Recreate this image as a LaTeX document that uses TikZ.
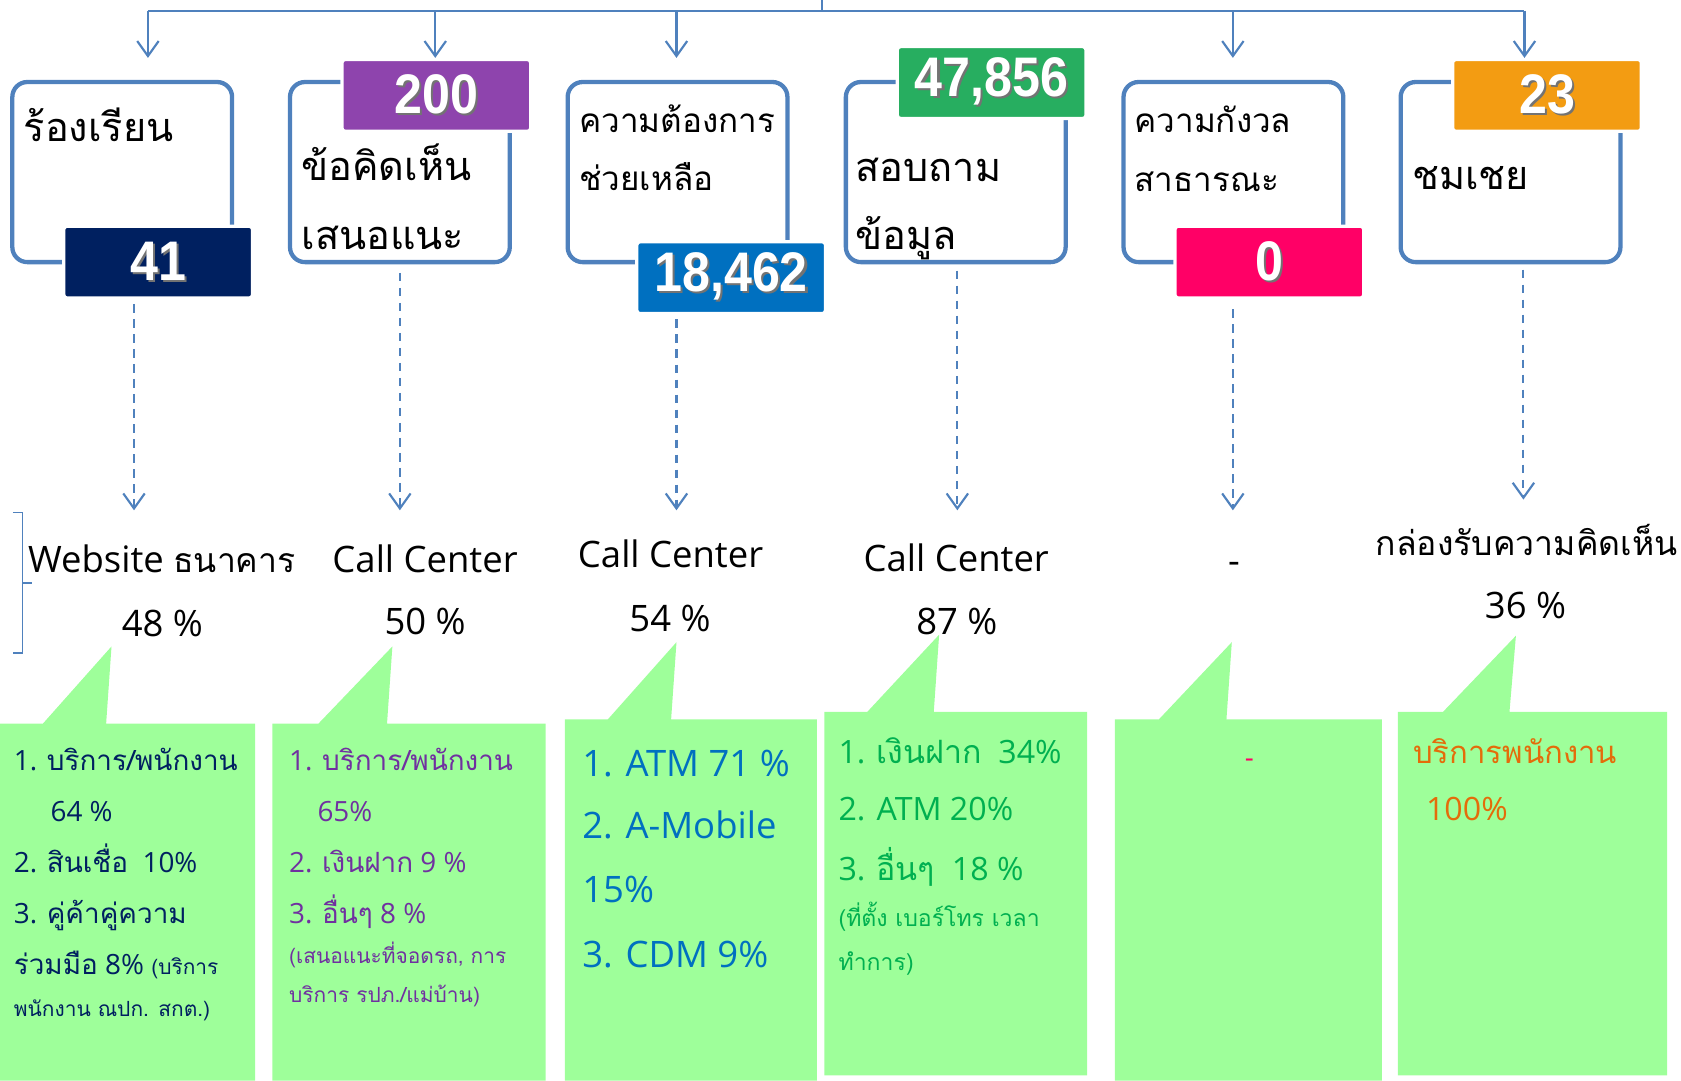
\documentclass[tikz,border=0pt]{standalone}
\usepackage{fontspec}
\setmainfont{Open Sans}
\newfontfamily\thai[Script=Thai]{Loma}
\newfontfamily\numfont[FakeStretch=0.9]{Liberation Sans}
\usetikzlibrary{arrows.meta}
\definecolor{lineblue}{RGB}{79,129,189}
\definecolor{navy}{RGB}{0,32,96}
\definecolor{lblpurple}{RGB}{142,68,173}
\definecolor{lblblue}{RGB}{0,112,192}
\definecolor{lblgreen}{RGB}{39,174,96}
\definecolor{lblpink}{RGB}{255,0,102}
\definecolor{lblorange}{RGB}{243,156,18}
\definecolor{callgreen}{RGB}{158,255,154}
\definecolor{txtpurple}{RGB}{112,48,160}
\definecolor{txtgreen}{RGB}{0,176,80}
\definecolor{txtorange}{RGB}{228,108,10}
\newcommand\fsz[1]{\fontsize{#1}{#1}\selectfont}
\newcommand\shad[1]{\rlap{\hspace{2pt}\raisebox{-2pt}{\color{black!55}#1}}#1}
\tikzset{
  box/.style={draw=lineblue, line width=4, rounded corners=14, minimum width=205, minimum height=168},
  lbl/.style={draw=white, line width=3, rounded corners=3, minimum width=176, minimum height=67, text=white, inner sep=0, font=\numfont\bfseries\fsz{52}},
  bt/.style={anchor=base west, inner sep=0, font=\thai\fsz{37}},
  bts/.style={anchor=base west, inner sep=0, font=\thai\fsz{31}},
  conn/.style={draw=lineblue, line width=2},
  tip/.style={-{Straight Barb[length=14,width=20]}},
  dsh/.style={draw=lineblue, line width=2, dash pattern=on 8pt off 6pt, -{Straight Barb[length=14,width=20]}},
  mid/.style={anchor=base, inner sep=0, font=\fsz{34}},
  ct/.style={anchor=base west, inner sep=0, font=\fsz{26}},
  cts/.style={anchor=base west, inner sep=0, font=\fsz{19.5}},
  callout/.style={fill=callgreen},
}
\begin{document}
\begin{tikzpicture}[x=1pt,y=-1pt]
\useasboundingbox (0,0) rectangle (1568,1008);

% callouts
\fill[callout] (0,675) -- (40,675) -- (104,603) -- (99,675) -- (238,675) -- (238,1008) -- (0,1008) -- cycle;
\fill[callout] (254,675) -- (297,675) -- (366,603) -- (361,675) -- (509,675) -- (509,1008) -- (254,1008) -- cycle;
\fill[callout] (527,671) -- (567,671) -- (631,599) -- (626,671) -- (762,671) -- (762,1008) -- (527,1008) -- cycle;
\fill[callout] (769,664) -- (809,664) -- (876,592) -- (871,664) -- (1014,664) -- (1014,1003) -- (769,1003) -- cycle;
\fill[callout] (1040,671) -- (1081,671) -- (1149,599) -- (1144,671) -- (1289,671) -- (1289,1008) -- (1040,1008) -- cycle;
\fill[callout] (1304,664) -- (1346,664) -- (1414,593) -- (1408,664) -- (1555,664) -- (1555,1003) -- (1304,1003) -- cycle;

% boxes
\node[box] (b1) at (114,160.5) {};
\node[box] (b2) at (373,160.5) {};
\node[box] (b3) at (632,160.5) {};
\node[box] (b4) at (891.5,160.5) {};
\node[box] (b5) at (1150.5,160.5) {};
\node[box] (b6) at (1409,160.5) {};

% labels
\node[lbl, fill=navy] (l1) at (147.5,244.5) {\shad{41}};
\node[lbl, fill=lblpurple] (l2) at (407,89) {\shad{200}};
\node[lbl, fill=lblblue] (l3) at (682,259) {\shad{18,462}};
\node[lbl, fill=lblgreen] (l4) at (925,77) {\shad{47,856}};
\node[lbl, fill=lblpink] (l5) at (1184,244.5) {\shad{0}};
\node[lbl, fill=lblorange] (l6) at (1443,89) {\shad{23}};

% box texts
\node[bt] (t1) at (22,132) {ร้องเรียน};
\node[bt] (t2a) at (281,168) {ข้อคิดเห็น};
\node[bt] (t2b) at (281,233) {เสนอแนะ};
\node[bts] (t3a) at (540,124) {ความต้องการ};
\node[bts] (t3b) at (540,178) {ช่วยเหลือ};
\node[bt] (t4a) at (798,169) {สอบถาม};
\node[bt] (t4b) at (798,233) {ข้อมูล};
\node[bts] (t5a) at (1058,124) {ความกังวล};
\node[bts] (t5b) at (1058,179) {สาธารณะ};
\node[bt] (t6) at (1317,177) {ชมเชย};

% top connector
\coordinate (tp) at (767,0);
\coordinate (tm) at (767,10);
\coordinate (h1) at (138,10);
\coordinate (h2) at (406,10);
\coordinate (h3) at (631,10);
\coordinate (h5) at (1150,10);
\coordinate (h6) at (1422,10);
\coordinate (e1) at (138,54);
\coordinate (e2) at (406,54);
\coordinate (e3) at (631,54);
\coordinate (e5) at (1150,54);
\coordinate (e6) at (1422,54);
\draw[conn] (tp) -- (tm);
\draw[conn] (h1) -- (h6);
\draw[conn,tip] (h1) -- (e1);
\draw[conn,tip] (h2) -- (e2);
\draw[conn,tip] (h3) -- (e3);
\draw[conn,tip] (h5) -- (e5);
\draw[conn,tip] (h6) -- (e6);

% dashed arrows
\coordinate (f1) at (125,476);
\coordinate (f2) at (373,476);
\coordinate (f3) at (631,476);
\coordinate (f4) at (893,476);
\coordinate (f5) at (1150,476);
\coordinate (f6) at (1421,466);
\draw[dsh, shorten <=4pt] (l1.south -| f1) -- (f1);
\draw[dsh, shorten <=8pt] (b2.south -| f2) -- (f2);
\draw[dsh, shorten <=4pt] (l3.south -| f3) -- (f3);
\draw[dsh, shorten <=6pt] (b4.south -| f4) -- (f4);
\draw[dsh, shorten <=9pt] (l5.south -| f5) -- (f5);
\draw[dsh, shorten <=5pt] (b6.south -| f6) -- (f6);

% bracket
\draw[conn, line width=1.5] (12,478) -- (21,478) -- (21,609) -- (12,609);
\draw[conn, line width=1.5] (21,544) -- (30,544);

% channel texts
\node[mid] (m1) at (151,534) {Website {\thai\fsz{31.5}ธนาคาร}};
\node[mid] (p1) at (151.5,594) {48 \%};
\node[mid] (m2) at (396.5,534) {Call Center};
\node[mid] (p2) at (396.5,592) {50 \%};
\node[mid] (m3) at (625.5,529) {Call Center};
\node[mid] (p3) at (625,589) {54 \%};
\node[mid] (m4) at (892,533) {Call Center};
\node[mid] (p4) at (892.5,592) {87 \%};
\node[mid] (m5) at (1151,535) {-};
\node[mid] (m6) at (1424,518) {\thai\fsz{31.5}กล่องรับความคิดเห็น};
\node[mid] (p6) at (1423,577) {36 \%};

% callout 1
\begin{scope}[every node/.append style={text=navy}]
\node[ct] (c1a) at (12.7,719) {1. {\thai บริการ/พนักงาน}};
\node[ct] (c1b) at (47,766) {64 \%};
\node[ct] (c1c) at (12.7,814) {2. {\thai สินเชื่อ}\ \ 10\%};
\node[ct] (c1d) at (12.7,861) {3. {\thai คู่ค้าคู่ความ}};
\node[ct] (c1e) at (12.7,909) {{\thai ร่วมมือ} 8\% {\fsz{19.5}\thai (บริการ}};
\node[cts] (c1f) at (12.7,948) {\thai พนักงาน ณปก. สกต.)};
\end{scope}
% callout 2
\begin{scope}[every node/.append style={text=txtpurple}]
\node[ct] (c2a) at (269.5,719) {1. {\thai บริการ/พนักงาน}};
\node[ct] (c2b) at (296,766) {65\%};
\node[ct] (c2c) at (269.5,814) {2. {\thai เงินฝาก} 9 \%};
\node[ct] (c2d) at (269.5,861) {3. {\thai อื่นๆ} 8 \%};
\node[cts] (c2e) at (269.5,899) {{\thai (เสนอแนะที่จอดรถ, การ}};
\node[cts] (c2f) at (269.5,935) {{\thai บริการ รปภ./แม่บ้าน)}};
\end{scope}
% callout 3
\begin{scope}[every node/.append style={text=lblblue}]
\node[ct, font=\fsz{34}] (c3a) at (543,724) {1. ATM 71 \%};
\node[ct, font=\fsz{34}] (c3b) at (543,782) {2. A-Mobile};
\node[ct, font=\fsz{34}] (c3c) at (543,842) {15\%};
\node[ct, font=\fsz{34}] (c3d) at (543,902) {3. CDM 9\%};
\end{scope}
% callout 4
\begin{scope}[every node/.append style={text=txtgreen}]
\node[ct, font=\fsz{30}] (c4a) at (782,712) {1. {\thai เงินฝาก}\ \ 34\%};
\node[ct, font=\fsz{30}] (c4b) at (782,765) {2. ATM 20\%};
\node[ct, font=\fsz{30}] (c4c) at (782,821) {3. {\thai อื่นๆ}\ \ 18 \%};
\node[cts, font=\fsz{21.5}] (c4d) at (782,864) {\thai (ที่ตั้ง เบอร์โทร เวลา};
\node[cts, font=\fsz{21.5}] (c4e) at (782,905) {\thai ทำการ)};
\end{scope}
% callout 5
\node[ct, text=lblpink] (c5a) at (1161,716) {-};
% callout 6
\begin{scope}[every node/.append style={text=txtorange}]
\node[ct, font=\fsz{29}] (c6a) at (1318,712) {\thai บริการพนักงาน};
\node[ct, font=\fsz{30}] (c6b) at (1330,765) {100\%};
\end{scope}
\end{tikzpicture}
\end{document}
